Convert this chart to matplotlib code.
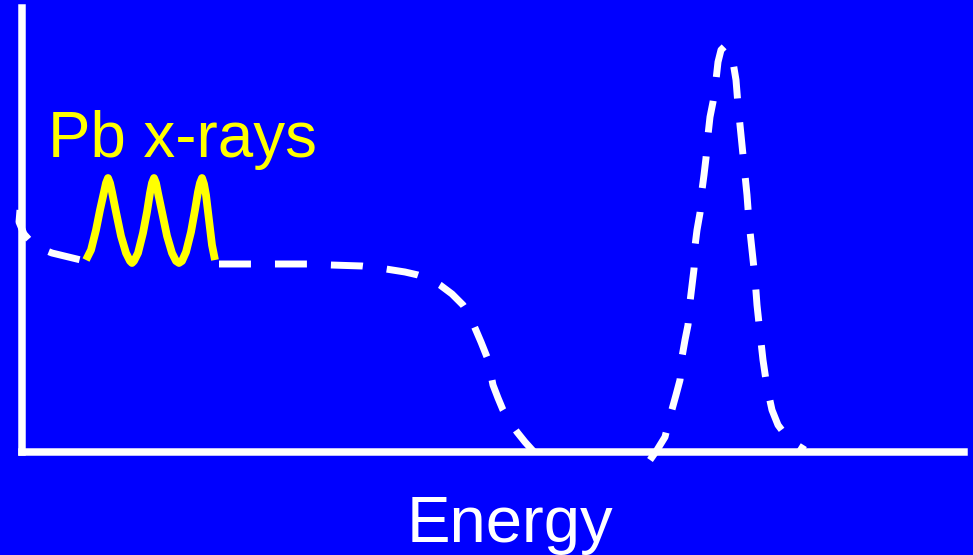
import matplotlib
matplotlib.use("Agg")
import matplotlib.pyplot as plt

# ---- data (x = energy channel, y = counts; arbitrary units) ----
# continuum left of the Pb x-ray lines
cont_left_x = [-2, -3, 2, 10, 20, 30, 63]
cont_left_y = [242, 230, 218, 209, 203, 199, 191]

# Pb x-ray lines (yellow)
xray_x = [64, 69, 74, 78, 82, 84, 86, 88, 90, 94, 99, 104, 108, 110, 112, 116, 121,
          125, 128, 130, 132, 134, 136, 140, 145, 150, 154, 157, 160, 164, 169, 173,
          176, 178, 180, 182, 184, 187, 190, 193]
xray_y = [192, 202, 222, 242, 260, 269, 274, 269, 260, 240, 216, 199, 191, 189, 191,
          199, 219, 240, 259, 269, 274, 269, 259, 240, 216, 199, 191, 189, 191, 200,
          220, 242, 260, 269, 274, 268, 257, 232, 207, 192]

# Compton continuum right of the x-rays (white dashed)
compton_x = [197, 229, 253, 285, 309, 340, 364, 383, 396, 408, 418, 430, 441, 448, 453,
             459, 465, 468, 471, 476, 481, 488, 495, 503, 512]
compton_y = [188, 188, 188, 188, 187, 186, 183, 180, 177, 173, 167, 158, 147, 136, 124,
             110, 95, 82, 67, 54, 42, 30, 20, 10, 0]

# photopeak (white dashed)
peak_x = [628, 635, 643, 649, 654, 658, 660, 663, 666, 668, 672, 673, 675, 678, 680,
          682, 684, 686, 688, 691, 694, 696, 699, 703, 707, 711, 714, 716, 719, 722,
          725, 727, 730, 733, 735, 738, 741, 745, 750, 756, 765, 775, 783]
peak_y = [-8, 2, 15, 39, 57, 72, 95, 112, 127, 150, 183, 206, 222, 239, 262, 277, 294,
          317, 335, 350, 372, 390, 402, 406, 400, 390, 372, 347, 317, 287, 257, 230,
          202, 174, 147, 119, 92, 65, 42, 27, 15, 7, 2]

BLUE = "#0000FF"
WHITE = "#FFFFFF"
YELLOW = "#FFFF00"

W, H, DPI = 973, 555, 100
fig = plt.figure(figsize=(W / DPI, H / DPI), dpi=DPI, facecolor=BLUE)

# axes box in pixel terms: left spine x=22, bottom spine y=452, top y=8, right x=964
left_px, right_px, top_px, bottom_px = 22, 964, 8, 452
ax = fig.add_axes([left_px / W, (H - bottom_px) / H,
                   (right_px - left_px) / W, (bottom_px - top_px) / H])
ax.set_facecolor(BLUE)
ax.set_xlim(0, right_px - left_px)
ax.set_ylim(0, bottom_px - top_px)

for s in ("top", "right"):
    ax.spines[s].set_visible(False)
for s in ("left", "bottom"):
    ax.spines[s].set_color(WHITE)
    ax.spines[s].set_linewidth(5.4)
    ax.spines[s].set_zorder(5)
ax.set_xticks([])
ax.set_yticks([])

dash = (4.6, 3.46)
for xs, ys in ((cont_left_x, cont_left_y), (compton_x, compton_y), (peak_x, peak_y)):
    ax.plot(xs, ys, color=WHITE, lw=5, dashes=dash, clip_on=False, zorder=3)
ax.plot(xray_x, xray_y, color=YELLOW, lw=5.6, solid_joinstyle="round",
        solid_capstyle="butt", clip_on=False, zorder=4)

fig.text(48 / W, (H - 157) / H, "Pb x-rays", color=YELLOW,
         fontsize=45.8, family="Liberation Sans", ha="left", va="baseline")
fig.text(510 / W, (H - 542) / H, "Energy", color=WHITE,
         fontsize=47, family="Liberation Sans", ha="center", va="baseline")

fig.savefig("out.png", dpi=DPI, facecolor=BLUE)
